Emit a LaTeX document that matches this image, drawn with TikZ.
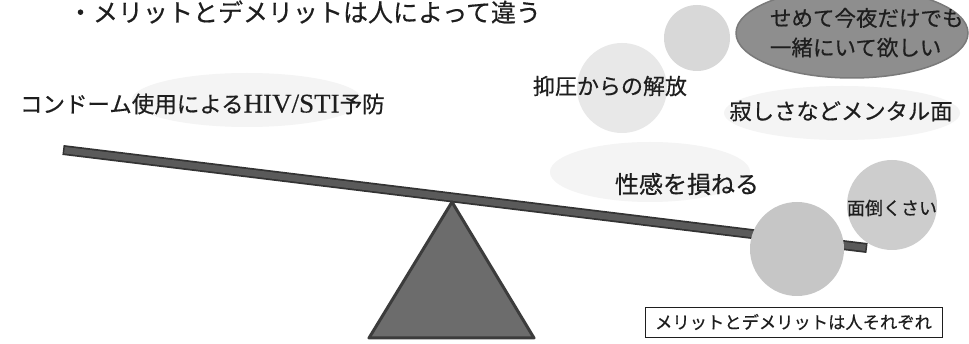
\documentclass[tikz,border=0pt]{standalone}
\usepackage{fontspec}
\setmainfont{Liberation Serif}
\newfontfamily\jpf[FakeBold=0.5]{Noto Sans CJK JP}
\newfontfamily\latf[FakeBold=0.3]{Liberation Serif}
\usetikzlibrary{shapes.geometric,calc}
\definecolor{txt}{HTML}{1E1E1E}
\definecolor{blob}{HTML}{F4F4F4}
\definecolor{cfaint}{HTML}{E8E8E8}
\definecolor{ctop}{HTML}{D8D8D8}
\definecolor{cbig}{HTML}{C6C6C6}
\definecolor{cmen}{HTML}{CDCDCD}
\definecolor{ellc}{HTML}{8E8E8E}
\definecolor{ellb}{HTML}{7A7A7A}
\definecolor{beamd}{HTML}{333333}
\definecolor{beaml}{HTML}{5A5A5A}
\definecolor{trif}{HTML}{6C6C6C}
\definecolor{trib}{HTML}{3C3C3C}
\begin{document}
\begin{tikzpicture}[x=1pt,y=-1pt,
  every node/.style={inner sep=0pt, outer sep=0pt},
  jtext/.style={font=\jpf\fontsize{#1}{#1}\selectfont, text=txt},
  jtext/.default=22,
  blobstyle/.style={fill=blob, draw=none},
  bubble/.style={circle, draw=none, fill=#1}]
\fill[white] (0,0) rectangle (969,344);
\useasboundingbox (0,0) rectangle (969,344);
% faint background blobs
\fill[blobstyle] (247,100) ellipse (115 and 27);
\fill[blobstyle] (650,172) ellipse (100 and 30);
\fill[blobstyle] (842,113) ellipse (118 and 27);
% bubbles at the top right
\node[bubble=cfaint, minimum size=90] (cfa) at (622,88) {};
\node[bubble=ctop, minimum size=66] (ctp) at (697,38) {};
\node[ellipse, fill=ellc, draw=ellb, line width=1.5, minimum width=232, minimum height=90] (ell) at (852,33) {};
% title
\node[jtext=25, anchor=west] (title) at (68,12) {・メリットとデメリットは人によって違う};
% texts
\node[jtext=22.5, anchor=west] (cond) at (20,104) {コンドーム使用による{\latf\fontsize{27}{27}\selectfont HIV/STI}予防};
\node[jtext=22] (yoku) at (610,86) {抑圧からの解放};
\node[jtext=22.3] (sabi) at (841,111) {寂しさなどメンタル面};
\node[jtext=21.5, anchor=north west, align=left] (seme) at (770,8) {せめて今夜だけでも\\[8pt]一緒にいて欲しい};
% seesaw
\node[bubble=cmen, minimum size=90] (men) at (892,205) {};
\coordinate (bl) at (63,150);
\coordinate (br) at (867,248);
\draw[beamd, line width=10] (bl) -- (br);
\draw[beaml, line width=6.5] ($(bl)!1.5pt!(br)$) -- ($(br)!1.5pt!(bl)$);
\node[bubble=cbig, minimum size=94] (big) at (797,249) {};
\coordinate (apex) at (452,202);
\coordinate (bL) at (369,338);
\coordinate (bR) at (534,338);
\draw[fill=trif, draw=trib, line width=3, line join=round] (apex) -- (bR) -- (bL) -- cycle;
\node[jtext=24] (sei) at (687,184) {性感を損ねる};
\node[jtext=18] (mend) at (892,208) {面倒くさい};
% bottom box
\node[draw=txt, line width=0.9, minimum width=297, minimum height=30, jtext=17.3] (box) at (793.5,322) {メリットとデメリットは人それぞれ};
\end{tikzpicture}
\end{document}
